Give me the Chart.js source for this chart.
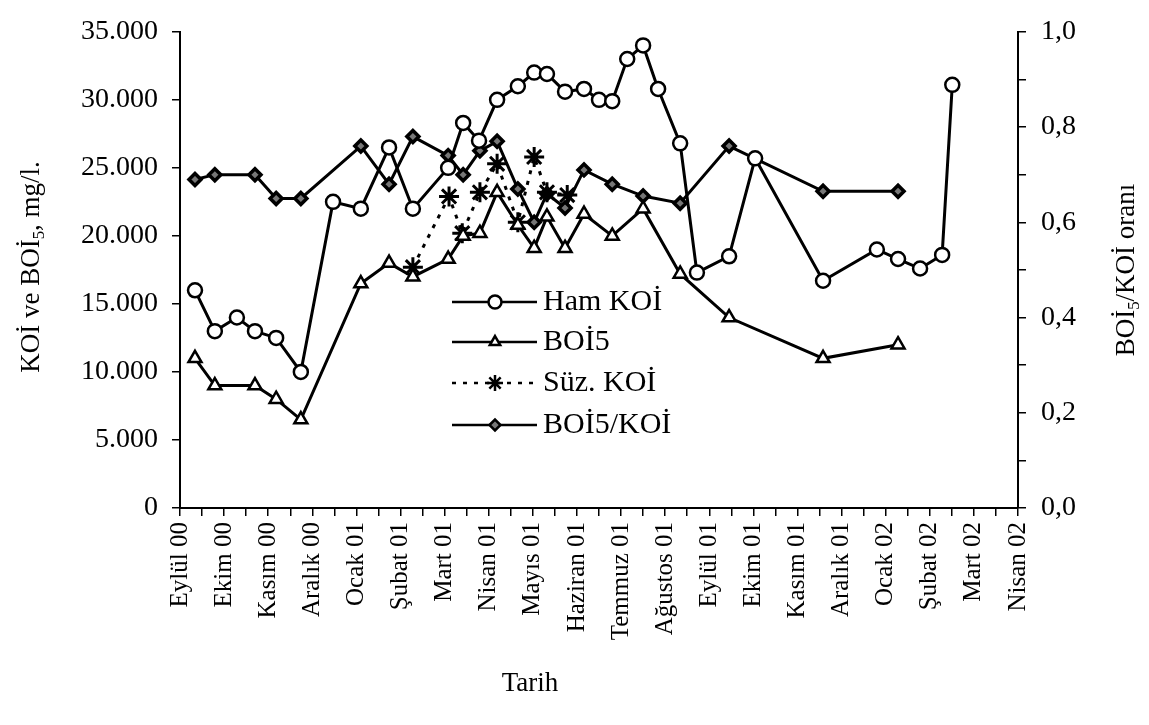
<!DOCTYPE html>
<html lang="tr">
<head>
<meta charset="utf-8">
<title>KOİ ve BOİ5</title>
<script src="https://cdn.jsdelivr.net/npm/chart.js@4.4.1/dist/chart.umd.min.js"></script>
<style>
  body { margin: 0; background: #fff; }
  #grafik { display: block; }
</style>
</head>
<body>
<canvas id="grafik" width="1149" height="725"></canvas>
<script>
// Ay etiketleri (x ekseni, her ay bir birim)
const aylar = ['Eylül 00', 'Ekim 00', 'Kasım 00', 'Aralık 00', 'Ocak 01', 'Şubat 01', 'Mart 01',
  'Nisan 01', 'Mayıs 01', 'Haziran 01', 'Temmuz 01', 'Ağustos 01', 'Eylül 01', 'Ekim 01',
  'Kasım 01', 'Aralık 01', 'Ocak 02', 'Şubat 02', 'Mart 02', 'Nisan 02'];

// Ham KOİ (mg/l) - zaman (ay) ve değer
const hamZaman = [0.34, 0.79, 1.29, 1.70, 2.18, 2.74, 3.47, 4.10, 4.74, 5.28, 6.08, 6.42, 6.78,
  7.19, 7.66, 8.03, 8.32, 8.73, 9.16, 9.50, 9.80, 10.14, 10.50, 10.84, 11.34, 11.72, 12.45,
  13.04, 14.58, 15.80, 16.28, 16.78, 17.28, 17.51];
const hamKoi = [16000, 13000, 14000, 13000, 12500, 10000, 22500, 22000, 26500, 22000, 25000,
  28300, 27000, 30000, 31000, 32000, 31900, 30600, 30800, 30000, 29900, 33000, 34000, 30800,
  26800, 17300, 18500, 25700, 16700, 19000, 18300, 17600, 18600, 31100];

// BOİ5 (mg/l)
const boiZaman = [0.34, 0.79, 1.70, 2.18, 2.74, 4.10, 4.74, 5.28, 6.08, 6.42, 6.80, 7.19, 7.66,
  8.03, 8.32, 8.73, 9.16, 9.80, 10.50, 11.34, 12.45, 14.58, 16.28];
const boi5 = [11000, 9000, 9000, 8000, 6500, 16500, 18000, 17000, 18300, 20000, 20200, 23200,
  20800, 19100, 21400, 19100, 21600, 20000, 22000, 17200, 14000, 11000, 12000];

// Süzülmüş KOİ (mg/l)
const suzZaman = [5.28, 6.10, 6.40, 6.80, 7.19, 7.66, 8.03, 8.32, 8.78];
const suzKoi = [17700, 22900, 20200, 23200, 25300, 21000, 25800, 23200, 23000];

// BOİ5/KOİ oranı (BOİ5 ile aynı tarihler)
const oran = [0.69, 0.70, 0.70, 0.65, 0.65, 0.76, 0.68, 0.78, 0.74, 0.70, 0.75, 0.77, 0.67,
  0.60, 0.66, 0.63, 0.71, 0.68, 0.655, 0.64, 0.76, 0.665, 0.665];

const yazi = '"Liberation Serif", "Times New Roman", serif';

function noktalar(zaman, degerler) {
  return zaman.map((t, i) => ({ x: t, y: degerler[i] }));
}

function binlik(v) {
  return String(v).replace(/\B(?=(\d{3})+(?!\d))/g, '.');
}

// alt simgeli yazı (BOİ5 gibi) çizer, ortalanmış
function zenginYazi(ctx, parcalar, boyut) {
  const olc = parcalar.map(p => {
    ctx.font = (p.alt ? boyut * 0.62 : boyut) + 'px ' + yazi;
    return ctx.measureText(p.t).width;
  });
  const toplam = olc.reduce((a, b) => a + b, 0);
  let x = -toplam / 2;
  parcalar.forEach((p, i) => {
    ctx.font = (p.alt ? boyut * 0.62 : boyut) + 'px ' + yazi;
    ctx.fillText(p.t, x, p.alt ? boyut * 0.28 : 0);
    x += olc[i];
  });
}

// Lejant ve eksen başlıkları
const ekler = {
  id: 'ekler',
  afterDraw(chart) {
    const ctx = chart.ctx;
    ctx.save();
    ctx.fillStyle = '#000';
    ctx.strokeStyle = '#000';
    ctx.textBaseline = 'middle';
    ctx.textAlign = 'left';

    // lejant
    const satirlar = [302, 342, 383, 425];
    const lejantBoy = [6.5, 6, 8, 5.5];
    chart.data.datasets.forEach((ds, i) => {
      const y = satirlar[i];
      ctx.lineWidth = 2.5;
      ctx.setLineDash(ds.borderDash || []);
      ctx.beginPath();
      ctx.moveTo(452, y);
      ctx.lineTo(537, y);
      ctx.stroke();
      ctx.setLineDash([]);
      ctx.fillStyle = ds.pointBackgroundColor;
      Chart.helpers.drawPoint(ctx, {
        pointStyle: ds.pointStyle,
        radius: lejantBoy[i],
        rotation: 0,
        borderWidth: ds.pointBorderWidth
      }, 495, y);
      ctx.fillStyle = '#000';
      ctx.font = '30px ' + yazi;
      ctx.fillText(ds.label, 543, y);
    });

    // eksen başlıkları
    ctx.save();
    ctx.translate(32, 267);
    ctx.rotate(-Math.PI / 2);
    zenginYazi(ctx, [{ t: 'KOİ ve BOİ' }, { t: '5', alt: true }, { t: ', mg/l.' }], 27);
    ctx.restore();

    ctx.save();
    ctx.translate(1127, 270);
    ctx.rotate(-Math.PI / 2);
    zenginYazi(ctx, [{ t: 'BOİ' }, { t: '5', alt: true }, { t: '/KOİ oranı' }], 27);
    ctx.restore();

    ctx.save();
    ctx.translate(530, 684);
    zenginYazi(ctx, [{ t: 'Tarih' }], 27);
    ctx.restore();

    ctx.restore();
  }
};

const eksenCizgi = { display: true, drawOnChartArea: false, drawTicks: true, tickLength: 8, color: '#000', lineWidth: 1.5 };

new Chart(document.getElementById('grafik'), {
  type: 'line',
  data: {
    datasets: [{
      label: 'Ham KOİ',
      data: noktalar(hamZaman, hamKoi),
      yAxisID: 'y',
      borderColor: '#000',
      borderWidth: 3,
      pointStyle: 'circle',
      pointRadius: 7,
      pointBorderWidth: 2.5,
      pointBackgroundColor: '#fff',
      pointBorderColor: '#000'
    }, {
      label: 'BOİ5',
      data: noktalar(boiZaman, boi5),
      yAxisID: 'y',
      borderColor: '#000',
      borderWidth: 3,
      pointStyle: 'triangle',
      pointRadius: 7.5,
      pointBorderWidth: 2.5,
      pointBackgroundColor: '#fff',
      pointBorderColor: '#000'
    }, {
      label: 'Süz. KOİ',
      data: noktalar(suzZaman, suzKoi),
      yAxisID: 'y',
      borderColor: '#000',
      borderWidth: 3,
      borderDash: [4, 7],
      pointStyle: 'star',
      pointRadius: 10,
      pointBorderWidth: 3,
      pointBackgroundColor: '#000',
      pointBorderColor: '#000'
    }, {
      label: 'BOİ5/KOİ',
      data: noktalar(boiZaman, oran),
      yAxisID: 'y1',
      borderColor: '#000',
      borderWidth: 3,
      pointStyle: 'rectRot',
      pointRadius: 6,
      pointBorderWidth: 3.5,
      pointBackgroundColor: '#777',
      pointBorderColor: '#000'
    }]
  },
  options: {
    responsive: false,
    animation: false,
    devicePixelRatio: 1,
    layout: { padding: { top: 22, left: 0, right: 0, bottom: 0 } },
    elements: { line: { tension: 0 } },
    plugins: { legend: { display: false }, tooltip: { enabled: false } },
    scales: {
      x: {
        type: 'linear',
        min: 0,
        max: 19,
        grid: eksenCizgi,
        border: { display: true, color: '#000', width: 2 },
        ticks: {
          stepSize: 0.5,
          autoSkip: false,
          maxRotation: 90,
          minRotation: 90,
          padding: 6,
          color: '#000',
          font: { family: yazi, size: 25 },
          callback: v => Number.isInteger(v) ? aylar[v] : ''
        },
        afterFit: s => { s.height = 217; }
      },
      y: {
        position: 'left',
        min: 0,
        max: 35000,
        grid: eksenCizgi,
        border: { display: true, color: '#000', width: 2 },
        ticks: {
          stepSize: 2500,
          padding: 14,
          color: '#000',
          font: { family: yazi, size: 28 },
          callback: v => v % 5000 === 0 ? binlik(v) : ''
        },
        afterFit: s => { s.width = 180; }
      },
      y1: {
        position: 'right',
        min: 0,
        max: 1,
        grid: eksenCizgi,
        border: { display: true, color: '#000', width: 2 },
        ticks: {
          stepSize: 0.1,
          padding: 15,
          color: '#000',
          font: { family: yazi, size: 28 },
          callback: v => Math.round(v * 10) % 2 === 0 ? v.toFixed(1).replace('.', ',') : ''
        },
        afterFit: s => { s.width = 131; }
      }
    }
  },
  plugins: [ekler]
});
</script>
</body>
</html>
